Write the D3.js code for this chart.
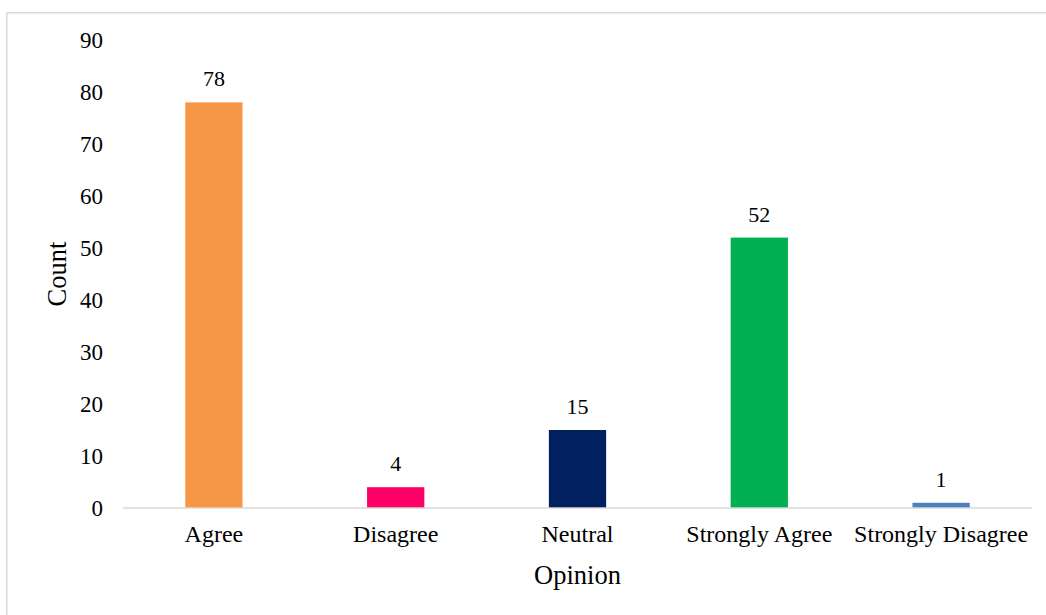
<!DOCTYPE html>
<html>
<head>
<meta charset="utf-8">
<script src="https://cdn.jsdelivr.net/npm/d3@7"></script>
<style>
  html, body { margin: 0; padding: 0; background: #fff; }
  svg { display: block; }
  text { font-family: "Liberation Serif", "Times New Roman", serif; fill: #000; }
</style>
</head>
<body>
<svg id="chart" width="1046" height="615"></svg>
<script>
// Survey responses by opinion
const categories = ["Agree", "Disagree", "Neutral", "Strongly Agree", "Strongly Disagree"];
const counts = [78, 4, 15, 52, 1];
const barColors = ["#F79646", "#FF0066", "#002060", "#00B050", "#4F81BD"];
const yTicks = [0, 10, 20, 30, 40, 50, 60, 70, 80, 90];

const svg = d3.select("#chart");
const W = 1046, H = 615;
const serif = "'Liberation Serif', 'Times New Roman', serif";

// Chart frame (runs off the right and bottom edges)
svg.append("rect")
  .attr("x", 6.75).attr("y", 12.75)
  .attr("width", W + 10).attr("height", H + 10)
  .attr("fill", "#fff")
  .attr("stroke", "#D9D9D9")
  .attr("stroke-width", 1.5);

const plot = { left: 123, right: 1032, top: 40, bottom: 508 };

const x = d3.scaleBand()
  .domain(categories)
  .range([plot.left, plot.right])
  .paddingInner(0.685)
  .paddingOuter(0.3425);

const y = d3.scaleLinear()
  .domain([0, 90])
  .range([plot.bottom, plot.top]);

// Y axis labels (no line, no ticks)
const yAxis = d3.axisLeft(y).tickValues(yTicks).tickSize(0).tickPadding(0);
const gy = svg.append("g")
  .attr("transform", `translate(${103},0)`)
  .call(yAxis);
gy.attr("font-family", serif);
gy.select(".domain").remove();
gy.selectAll("text")
  .attr("font-size", "23px")
  .attr("font-family", serif)
  .attr("fill", "#000")
  .attr("dy", "0.32em");

// Bars
svg.append("g").selectAll("rect")
  .data(categories)
  .join("rect")
  .attr("x", d => x(d))
  .attr("width", x.bandwidth())
  .attr("y", (d, i) => y(counts[i]))
  .attr("height", (d, i) => y(0) - y(counts[i]))
  .attr("fill", (d, i) => barColors[i]);

// X axis
const xAxis = d3.axisBottom(x).tickSize(0).tickPadding(0);
const gx = svg.append("g")
  .attr("transform", `translate(0,${plot.bottom})`)
  .call(xAxis);
gx.attr("font-family", serif);
gx.select(".domain")
  .attr("stroke", "#D9D9D9")
  .attr("stroke-width", 1.5)
  .attr("d", `M${plot.left},0H${plot.right}`);
gx.selectAll("text")
  .attr("font-size", "24px")
  .attr("font-family", serif)
  .attr("fill", "#000")
  .attr("y", 34)
  .attr("dy", 0);

// Value labels
svg.append("g").selectAll("text")
  .data(categories)
  .join("text")
  .attr("x", d => x(d) + x.bandwidth() / 2)
  .attr("y", (d, i) => y(counts[i]) - 16)
  .attr("text-anchor", "middle")
  .attr("font-size", "22px")
  .text((d, i) => counts[i]);

// Axis titles
svg.append("text")
  .attr("x", (plot.left + plot.right) / 2)
  .attr("y", 584)
  .attr("text-anchor", "middle")
  .attr("font-size", "26.5px")
  .text("Opinion");

svg.append("text")
  .attr("transform", `translate(66,${274}) rotate(-90)`)
  .attr("text-anchor", "middle")
  .attr("font-size", "26.5px")
  .text("Count");
</script>
</body>
</html>
